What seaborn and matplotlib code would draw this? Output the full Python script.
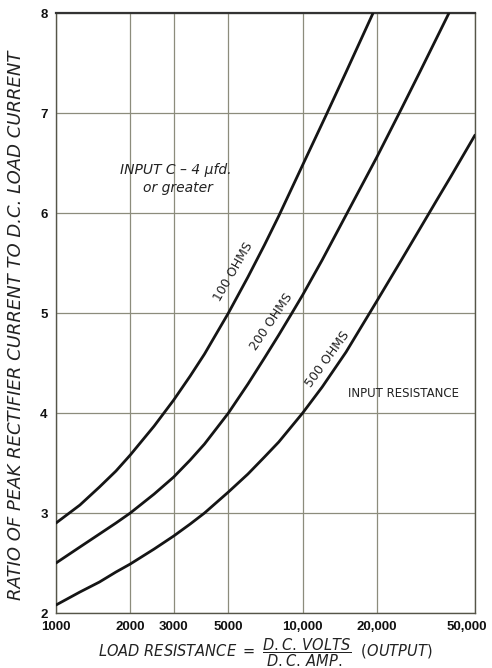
import numpy as np
import pandas as pd
import matplotlib
matplotlib.use("Agg")
import matplotlib.pyplot as plt
import matplotlib.transforms as mtrans
from matplotlib.ticker import NullLocator
import seaborn as sns

sns.set_theme(style="white")
plt.rcParams['font.family'] = ['DejaVu Sans']
plt.rcParams['mathtext.fontset'] = 'dejavusans'

# Curvas (resistencia de carga en ohmios -> relación de corrientes)
r100_x = [1000, 1250, 1500, 1750, 2000, 2500, 3000, 3500, 4000, 5000, 6000, 7000,
          8000, 10000, 12400, 15000, 19300]
r100_y = [2.90, 3.08, 3.26, 3.42, 3.58, 3.87, 4.13, 4.37, 4.59, 5.00, 5.36, 5.68,
          5.97, 6.48, 6.97, 7.41, 8.00]

r200_x = [1000, 1250, 1500, 1750, 2000, 2500, 3000, 3500, 4000, 5000, 6000, 7000,
          8000, 9000, 10000, 12000, 15000, 20000, 25000, 30000, 39200]
r200_y = [2.50, 2.66, 2.79, 2.90, 3.00, 3.19, 3.36, 3.53, 3.69, 4.00, 4.29, 4.55,
          4.78, 4.99, 5.18, 5.53, 5.98, 6.56, 7.03, 7.42, 8.00]

r500_x = [1000, 1250, 1500, 1750, 2000, 2500, 3000, 3500, 4000, 5000, 6000, 7000,
          8000, 10000, 12000, 15000, 20000, 25000, 30000, 35000, 40000, 50000]
r500_y = [2.08, 2.21, 2.31, 2.41, 2.49, 2.64, 2.77, 2.89, 3.00, 3.21, 3.39, 3.56,
          3.71, 4.00, 4.26, 4.61, 5.12, 5.52, 5.85, 6.13, 6.37, 6.78]

x_ticks = [1000, 2000, 3000, 5000, 10000, 20000, 50000]
x_labels = ["1000", "2000", "3000", "5000", "10,000", "20,000", "50,000"]
y_ticks = [2, 3, 4, 5, 6, 7, 8]

datos = pd.concat([
    pd.DataFrame({"R": r100_x, "ratio": r100_y, "curva": "100 OHMS"}),
    pd.DataFrame({"R": r200_x, "ratio": r200_y, "curva": "200 OHMS"}),
    pd.DataFrame({"R": r500_x, "ratio": r500_y, "curva": "500 OHMS"}),
])

fig = plt.figure(figsize=(4.92, 6.68), dpi=100)
ax = fig.add_axes([0.1138, 0.0823, 0.8516, 0.898])

grid_col = "#8c8c7c"
for xv in x_ticks:
    ax.axvline(xv, color=grid_col, lw=0.9, zorder=1)
for yv in y_ticks:
    ax.axhline(yv, color=grid_col, lw=0.9, zorder=1)

sns.lineplot(data=datos, x="R", y="ratio", hue="curva", palette=["#151515"] * 3,
             linewidth=2.0, legend=False, ax=ax, zorder=3)

ax.set_xscale("log")
ax.set_xlim(1000, 50000)
ax.set_ylim(2, 8)
ax.set_xticks(x_ticks)
ax.set_xticklabels(x_labels)
ax.xaxis.set_minor_locator(NullLocator())
ax.set_yticks(y_ticks)
ax.tick_params(length=0, labelsize=9.5, pad=6)
for lbl in ax.get_xticklabels() + ax.get_yticklabels():
    lbl.set_fontweight("bold")
    lbl.set_family("Liberation Sans")
    lbl.set_color("#111111")
ult = ax.get_xticklabels()[-1]
ult.set_transform(ult.get_transform() + mtrans.ScaledTranslation(-8 / 100, 0, fig.dpi_scale_trans))

for s in ax.spines.values():
    s.set_color("#555548")
    s.set_linewidth(1.0)
ax.spines["top"].set_linewidth(1.6)
ax.spines["top"].set_color("#333333")

ax.set_ylabel("RATIO OF PEAK RECTIFIER CURRENT TO D.C. LOAD CURRENT",
              fontstyle="italic", fontsize=13, color="#222222")
ax.yaxis.set_label_coords(-0.075, 0.48)
ax.set_xlabel(r"$\mathit{LOAD\ RESISTANCE}\ =\ \dfrac{\mathit{D.C.\,VOLTS}}{\mathit{D.C.\,AMP.}}\ \ \mathit{(OUTPUT)}$",
              fontsize=10.5, color="#222222", labelpad=2)

# Anotaciones
ax.text(3060, 6.43, "INPUT C \u2013 4 \u00b5fd.", fontstyle="italic", fontsize=10,
        ha="center", va="center", color="#222222")
ax.text(3120, 6.25, "or greater", fontstyle="italic", fontsize=10,
        ha="center", va="center", color="#222222")
ax.text(5250, 5.41, "100 OHMS", rotation=60, fontsize=9, ha="center", va="center",
        color="#222222")
ax.text(7480, 4.91, "200 OHMS", rotation=56, fontsize=9, ha="center", va="center",
        color="#222222")
ax.text(12600, 4.54, "500 OHMS", rotation=54, fontsize=9, ha="center", va="center",
        color="#222222")
ax.text(25600, 4.2, "INPUT RESISTANCE", fontsize=8.5, ha="center", va="center",
        color="#222222")

fig.savefig("out.png", dpi=100)
